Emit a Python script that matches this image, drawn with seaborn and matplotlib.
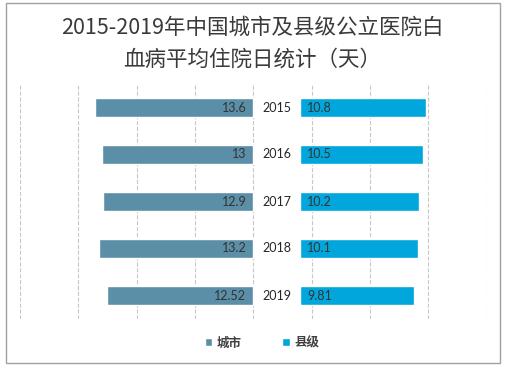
import matplotlib.pyplot as plt
import seaborn as sns
from matplotlib.patches import Rectangle

# data
years = ["2015", "2016", "2017", "2018", "2019"]
city = [13.6, 13, 12.9, 13.2, 12.52]
county = [10.8, 10.5, 10.2, 10.1, 9.81]
city_labels = ["13.6", "13", "12.9", "13.2", "12.52"]
county_labels = ["10.8", "10.5", "10.2", "10.1", "9.81"]

sns.set_style("white")
plt.rcParams["font.family"] = ["Noto Sans CJK SC", "DejaVu Sans"]

W, H = 505, 369
fig = plt.figure(figsize=(W / 100, H / 100), dpi=100)
ax = fig.add_axes([20 / W, 50 / H, 466.7 / W, 235 / H])

gap = 4  # room for the year labels in the middle
sns.barplot(x=[-v for v in city], y=years, orient="h", color="#5B8FA7",
            saturation=1, width=0.4, label="城市", ax=ax)
sns.barplot(x=county, y=years, orient="h", color="#00A6DC",
            saturation=1, width=0.4, label="县级", left=gap, ax=ax)

for i, yr in enumerate(years):
    ax.text(gap / 2, i, yr, ha="center", va="center", fontsize=9,
            color="#262626", family=["Lato", "DejaVu Sans"])
    ax.text(-0.6, i, city_labels[i], ha="right", va="center", fontsize=9,
            color="#333333", family=["Lato", "DejaVu Sans"])
    ax.text(gap + 0.6, i, county_labels[i], ha="left", va="center", fontsize=9,
            color="#333333", family=["Lato", "DejaVu Sans"])

ax.set_xlim(-20, 20)
ax.set_xticks(range(-20, 21, 5))
ax.set_xticklabels([])
ax.set_yticks([])
ax.set_xlabel("")
ax.set_ylabel("")
ax.tick_params(length=0)
ax.grid(axis="x", linestyle="--", color="#C8C8C8", linewidth=0.8)
ax.set_axisbelow(True)
sns.despine(ax=ax, left=True, bottom=True)

handles, labels = ax.get_legend_handles_labels()
if ax.get_legend() is not None:
    ax.get_legend().remove()
fig.legend(handles, labels, loc="center", bbox_to_anchor=(262 / W, 1 - 343 / H),
           ncol=2, frameon=False, handlelength=0.6, handleheight=0.6,
           handletextpad=0.4, columnspacing=3.2,
           prop={"size": 9, "weight": "bold"}, labelcolor="#404040")

fig.text(0.5, 1 - 28 / H, "2015-2019年中国城市及县级公立医院白", ha="center",
         va="center", fontsize=15.5, color="#3A3A3A")
fig.text(0.5, 1 - 60 / H, "血病平均住院日统计（天）", ha="center",
         va="center", fontsize=15.5, color="#3A3A3A")

fig.patches.append(Rectangle((6 / W, 6 / H), 494 / W, 360 / H, transform=fig.transFigure,
                             fill=False, edgecolor="#A0A0A0", linewidth=1))

fig.savefig("out.png", dpi=100)
